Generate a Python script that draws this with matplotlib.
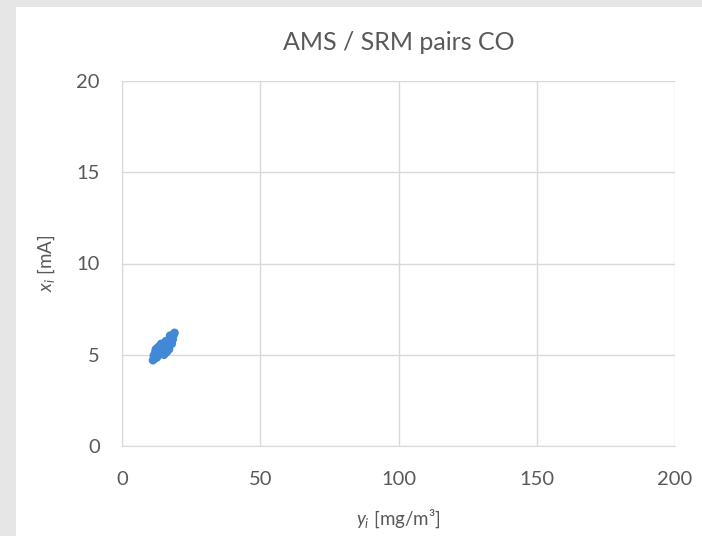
import matplotlib
matplotlib.use("Agg")
import matplotlib.pyplot as plt
from matplotlib.patches import Rectangle

# AMS / SRM measurement pairs for CO
srm_conc = [11.2, 11.5, 11.8, 12.0, 12.3, 12.5, 12.8, 13.0, 13.2, 13.5, 13.8, 14.0,
            14.3, 14.6, 14.9, 15.1, 15.4, 15.7, 16.0, 16.3, 16.6, 16.9, 17.2, 17.5,
            17.8, 18.1, 18.4, 18.7, 19.0, 12.6, 13.6, 14.7, 15.9, 17.0, 18.0, 16.2,
            14.2, 12.2, 17.4, 15.2]
ams_signal = [4.7, 4.95, 4.8, 5.1, 5.3, 4.9, 5.15, 5.4, 5.0, 5.25, 5.5, 5.1,
              5.35, 5.2, 5.55, 5.3, 5.6, 5.25, 5.45, 5.7, 5.35, 5.8, 5.55, 5.9,
              5.7, 6.0, 5.85, 6.1, 6.2, 4.85, 5.45, 5.05, 5.75, 5.3, 5.6, 5.15,
              5.6, 5.25, 6.05, 5.0]

x_ticks = [0, 50, 100, 150, 200]
y_ticks = [0, 5, 10, 15, 20]

plt.rcParams['font.family'] = ['Lato', 'DejaVu Sans']
plt.rcParams['mathtext.fontset'] = 'custom'
plt.rcParams['mathtext.it'] = 'Lato:italic'
plt.rcParams['mathtext.rm'] = 'Lato'

fig = plt.figure(figsize=(7.02, 5.44), dpi=100)
fig.patch.set_facecolor('white')

# grey surround of the chart frame
W, H = 702, 544
fig.patches.append(Rectangle((0, 1 - 7 / H), 1, 7 / H, transform=fig.transFigure,
                             facecolor='#e6e6e6', edgecolor='none', zorder=0))
fig.patches.append(Rectangle((0, 8 / H), 16 / W, 1 - 8 / H, transform=fig.transFigure,
                             facecolor='#e6e6e6', edgecolor='none', zorder=0))

ax = fig.add_axes([122 / W, 1 - 446 / H, (675 - 122) / W, (446 - 81) / H])
ax.scatter(srm_conc, ams_signal, s=38, color='#4189d6', edgecolors='none', zorder=3)

ax.set_xlim(0, 200)
ax.set_ylim(0, 20)
ax.set_xticks(x_ticks)
ax.set_yticks(y_ticks)
ax.grid(True, color='#d9d9d9', linewidth=1)
ax.set_axisbelow(True)
for side in ['top', 'right']:
    ax.spines[side].set_visible(False)
for side in ['left', 'bottom']:
    ax.spines[side].set_color('#d9d9d9')
ax.tick_params(length=0, labelsize=14.5, labelcolor='#595959')
ax.tick_params(axis='x', pad=18)
ax.tick_params(axis='y', pad=16)

ax.set_title('AMS / SRM pairs CO', fontsize=18, color='#595959', pad=22)
ax.set_xlabel(r'$y_i$ [mg/m³]', fontsize=13.5, color='#595959', labelpad=14)
ax.set_ylabel(r'$x_i$ [mA]', fontsize=13.5, color='#595959', labelpad=14)

fig.savefig('out.png', dpi=100)
